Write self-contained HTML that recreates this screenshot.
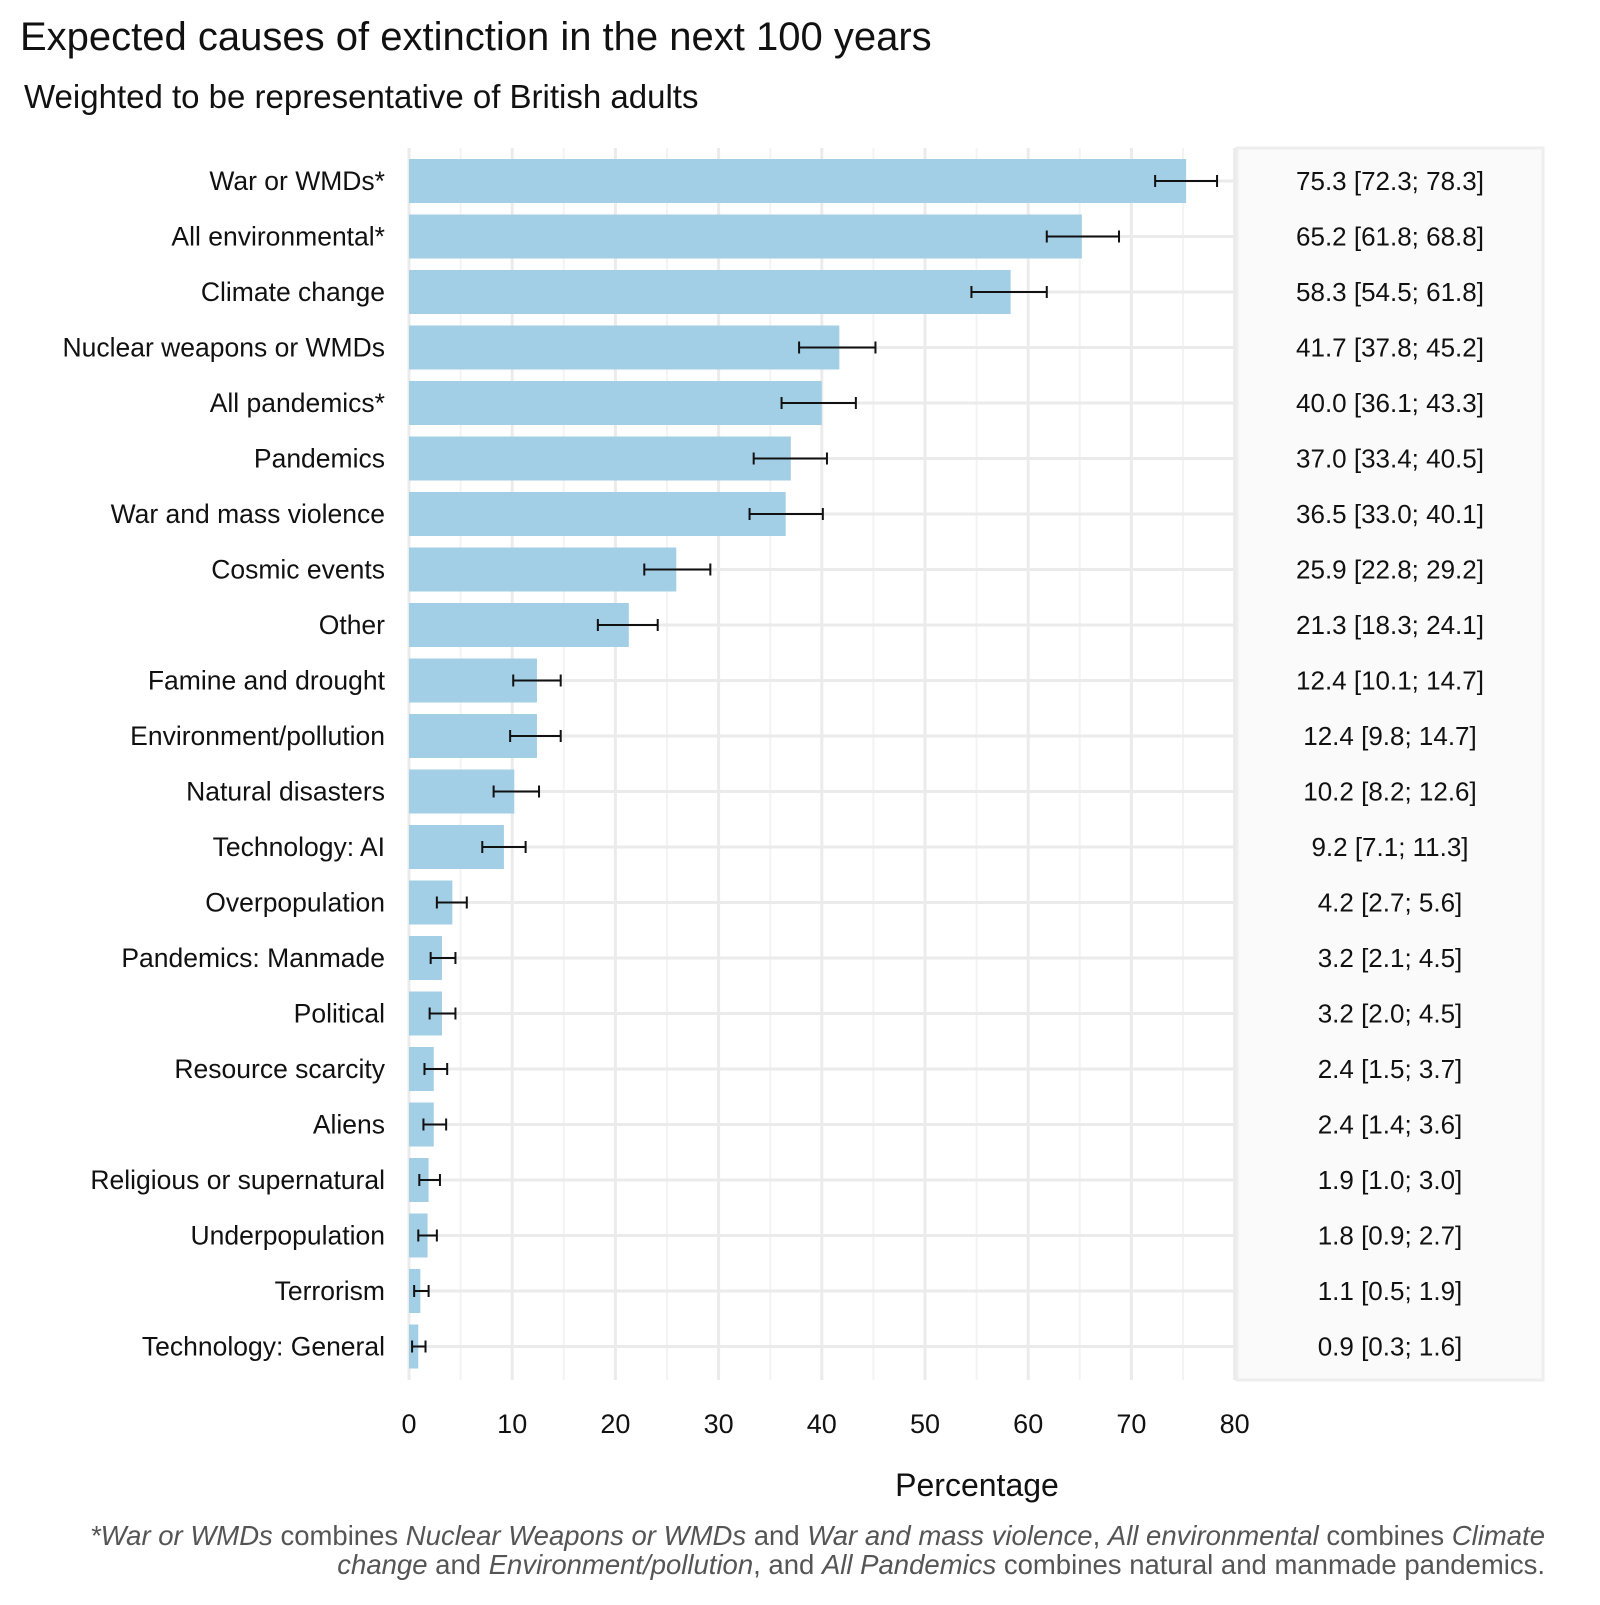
<!DOCTYPE html>
<html><head><meta charset="utf-8"><style>
body{margin:0;background:#fff;}
svg text{font-family:"Liberation Sans",sans-serif;}
</style></head><body>
<svg id="chart" width="1600" height="1600" xmlns="http://www.w3.org/2000/svg">
<rect width="1600" height="1600" fill="#fff"/>
<text x="20" y="50" font-size="40" fill="#111">Expected causes of extinction in the next 100 years</text>
<text x="24" y="108" font-size="33" fill="#111">Weighted to be representative of British adults</text>
<rect x="1237" y="148" width="306" height="1232" fill="#fafafa" stroke="#eeeeee" stroke-width="3"/>
<g id="grid"></g><g id="bars"></g><g id="labels"></g>
<text x="977" y="1496" font-size="32" text-anchor="middle" fill="#111">Percentage</text>
<text x="1545" y="1545" font-size="27.5" text-anchor="end" fill="#555"><tspan font-style="italic">*War or WMDs</tspan> combines <tspan font-style="italic">Nuclear Weapons or WMDs</tspan> and <tspan font-style="italic">War and mass violence</tspan>, <tspan font-style="italic">All environmental</tspan> combines <tspan font-style="italic">Climate</tspan></text>
<text x="1545" y="1574" font-size="27.5" text-anchor="end" fill="#555"><tspan font-style="italic">change</tspan> and <tspan font-style="italic">Environment/pollution</tspan>, and <tspan font-style="italic">All Pandemics</tspan> combines natural and manmade pandemics.</text>
</svg>
<script>
const categories=["War or WMDs*","All environmental*","Climate change","Nuclear weapons or WMDs","All pandemics*","Pandemics","War and mass violence","Cosmic events","Other","Famine and drought","Environment/pollution","Natural disasters","Technology: AI","Overpopulation","Pandemics: Manmade","Political","Resource scarcity","Aliens","Religious or supernatural","Underpopulation","Terrorism","Technology: General"];
const values=[75.3,65.2,58.3,41.7,40.0,37.0,36.5,25.9,21.3,12.4,12.4,10.2,9.2,4.2,3.2,3.2,2.4,2.4,1.9,1.8,1.1,0.9];
const lows=[72.3,61.8,54.5,37.8,36.1,33.4,33.0,22.8,18.3,10.1,9.8,8.2,7.1,2.7,2.1,2.0,1.5,1.4,1.0,0.9,0.5,0.3];
const highs=[78.3,68.8,61.8,45.2,43.3,40.5,40.1,29.2,24.1,14.7,14.7,12.6,11.3,5.6,4.5,4.5,3.7,3.6,3.0,2.7,1.9,1.6];
const xTicks=[0,10,20,30,40,50,60,70,80];
const NS="http://www.w3.org/2000/svg";
const x=v=>409+v*10.32;
const y=i=>181+i*55.5;
function mk(tag,attrs,parent){const e=document.createElementNS(NS,tag);for(const k in attrs)e.setAttribute(k,attrs[k]);document.getElementById(parent).appendChild(e);return e;}
const top_=148,bot=1380;
for(let v=5;v<=80;v+=10){const l=mk('line',{x1:x(v),x2:x(v),y1:top_,y2:bot,stroke:'#f3f3f3','stroke-width':2},'grid');

}
xTicks.forEach(t=>{const l=mk('line',{x1:x(t),x2:x(t),y1:top_,y2:bot,stroke:'#ebebeb','stroke-width':3},'grid');


const tx=mk('text',{x:x(t),y:1433,'font-size':27,'text-anchor':'middle',fill:'#111'},'labels');tx.textContent=t;

});
categories.forEach((c,i)=>{
const g=mk('line',{x1:x(0),x2:x(80),y1:y(i),y2:y(i),stroke:'#ebebeb','stroke-width':3},'grid');


const b=mk('rect',{x:x(0),y:y(i)-22,width:x(values[i])-x(0),height:44,fill:'#a3cfe6'},'bars');


const e=mk('path',{d:`M${x(lows[i])},${y(i)}H${x(highs[i])}M${x(lows[i])},${y(i)-6}V${y(i)+6}M${x(highs[i])},${y(i)-6}V${y(i)+6}`,stroke:'#111','stroke-width':2,fill:'none'},'bars');


const t=mk('text',{x:385,y:y(i)+9,'font-size':26.5,'text-anchor':'end',fill:'#111'},'labels');t.textContent=c;


const v=mk('text',{x:1390,y:y(i)+9,'font-size':26,'text-anchor':'middle',fill:'#111'},'labels');
v.textContent=`${values[i].toFixed(1)} [${lows[i].toFixed(1)}; ${highs[i].toFixed(1)}]`;


});
</script>
</body></html>
